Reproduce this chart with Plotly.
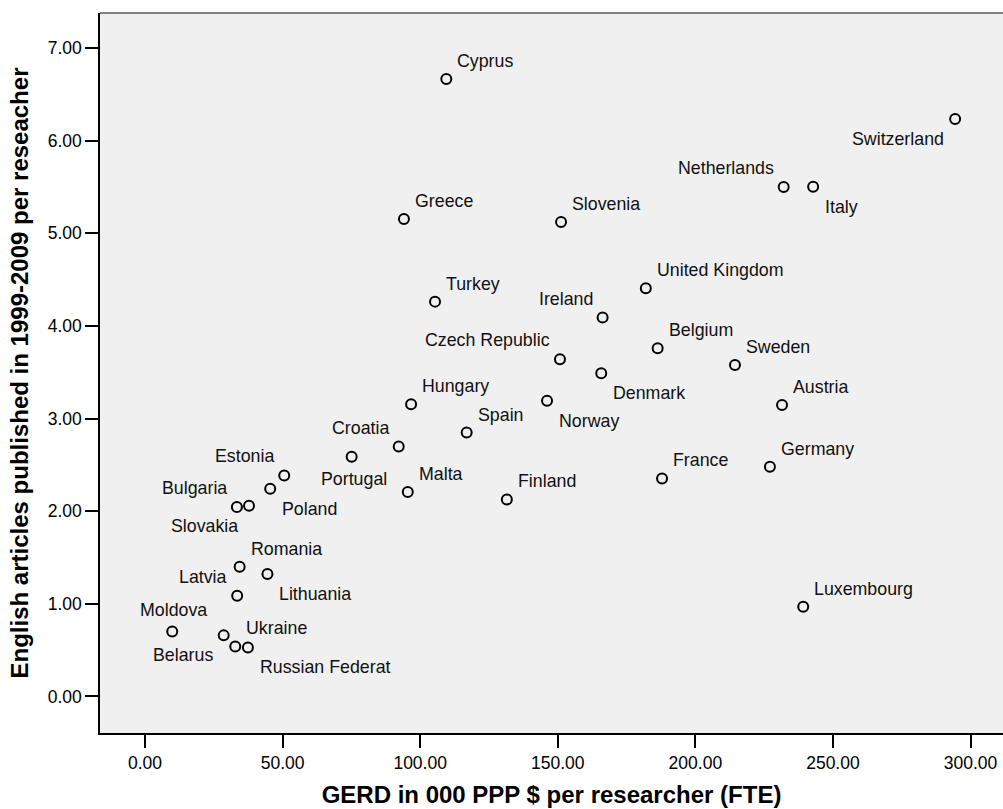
import plotly.graph_objects as go

countries = ["Cyprus", "Greece", "Slovenia", "Switzerland", "Netherlands", "Italy",
             "United Kingdom", "Turkey", "Ireland", "Belgium", "Czech Republic", "Sweden",
             "Denmark", "Hungary", "Norway", "Austria", "Spain", "Croatia", "Portugal",
             "Germany", "Estonia", "France", "Poland", "Malta", "Finland", "Bulgaria",
             "Slovakia", "Romania", "Lithuania", "Latvia", "Luxembourg", "Moldova",
             "Belarus", "Ukraine", "Russian Federat"]
gerd = [109.5, 94.1, 151.2, 294.4, 232.1, 242.8,
        182.0, 105.4, 166.3, 186.3, 150.8, 214.4,
        165.8, 96.7, 146.1, 231.5, 116.9, 92.2, 75.1,
        227.1, 50.6, 187.9, 45.5, 95.5, 131.5, 33.4,
        37.8, 34.4, 44.5, 33.5, 239.2, 9.9,
        28.6, 32.8, 37.4]
articles = [6.666, 5.155, 5.122, 6.234, 5.500, 5.503,
            4.407, 4.262, 4.090, 3.759, 3.641, 3.579,
            3.490, 3.155, 3.191, 3.145, 2.849, 2.698, 2.587,
            2.479, 2.385, 2.353, 2.241, 2.206, 2.126, 2.044,
            2.058, 1.400, 1.321, 1.087, 0.968, 0.702,
            0.659, 0.540, 0.529]

x_ticks = [0, 50, 100, 150, 200, 250, 300]
y_ticks = [0, 1, 2, 3, 4, 5, 6, 7]

# label placement around each point (layout only)
placement = {
    "Switzerland": "LB", "Netherlands": "LA", "Italy": "RB", "Ireland": "LA",
    "Czech Republic": "LA", "Denmark": "RB", "Norway": "RB", "Croatia": "LA",
    "Portugal": "BC", "Estonia": "LA", "Poland": "RB", "Bulgaria": "LA",
    "Slovakia": "LB", "Lithuania": "RB", "Latvia": "LA", "Moldova": "TC",
    "Belarus": "LB", "Russian Federat": "RB",
}
place_style = {
    "RA": dict(xanchor="left", yanchor="middle", xshift=9, yshift=18),
    "RB": dict(xanchor="left", yanchor="middle", xshift=10, yshift=-20),
    "LA": dict(xanchor="right", yanchor="middle", xshift=-8, yshift=19),
    "LB": dict(xanchor="right", yanchor="middle", xshift=-9, yshift=-20),
    "TC": dict(xanchor="center", yanchor="middle", xshift=1, yshift=21),
    "BC": dict(xanchor="center", yanchor="middle", xshift=2, yshift=-22),
}

FONT = "Liberation Sans, Arial, sans-serif"

fig = go.Figure()
fig.add_trace(go.Scatter(
    x=gerd, y=articles, mode="markers",
    marker=dict(symbol="circle", size=10, color="rgba(0,0,0,0)",
                line=dict(color="black", width=2)),
    hoverinfo="skip", showlegend=False,
))

annotations = []
for name, xv, yv in zip(countries, gerd, articles):
    st = place_style[placement.get(name, "RA")]
    annotations.append(dict(x=xv, y=yv, xref="x", yref="y", text=name,
                            showarrow=False, font=dict(family=FONT, size=17.8, color="#111"),
                            **st))

fig.update_layout(
    width=1003, height=809,
    margin=dict(l=100, r=0, t=13, b=76, autoexpand=False),
    paper_bgcolor="white", plot_bgcolor="#F0F0F0",
    font=dict(family=FONT, color="black"),
    annotations=annotations,
    shapes=[dict(type="line", xref="paper", yref="paper", x0=0, x1=1, y0=1, y1=1,
                 line=dict(color="#5a5a5a", width=1.5))],
)
fig.update_xaxes(
    range=[-16.35, 311.8], tickvals=x_ticks, tickformat=".2f",
    showgrid=False, zeroline=False, showline=True, linecolor="black", linewidth=1.5,
    ticks="outside", ticklen=13, tickwidth=2, tickcolor="black",
    tickfont=dict(family=FONT, size=17.5, color="black"),
    title=dict(text="<b>GERD in 000 PPP $ per researcher (FTE)</b>",
               font=dict(family=FONT, size=24, color="black"), standoff=14),
)
fig.update_yaxes(
    range=[-0.395, 7.378], tickvals=y_ticks, tickformat=".2f",
    showgrid=False, zeroline=False, showline=True, linecolor="black", linewidth=1.5,
    ticks="outside", ticklen=13, tickwidth=2, tickcolor="black",
    tickfont=dict(family=FONT, size=17.5, color="black"),
    title=dict(text="<b>English articles published in 1999-2009 per reseacher</b>",
               font=dict(family=FONT, size=24, color="black"), standoff=12),
)

fig.write_html("out.html")
